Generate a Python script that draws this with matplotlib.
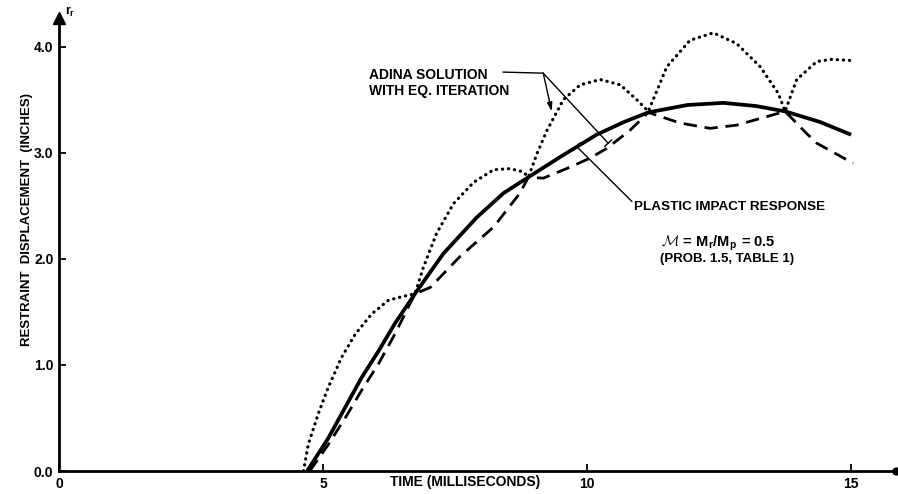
import matplotlib
matplotlib.use("Agg")
import matplotlib.pyplot as plt

plt.rcParams['font.family'] = ['Liberation Sans', 'DejaVu Sans']
plt.rcParams['font.weight'] = 'bold'

# plastic impact response (solid)
t_plastic = [4.70, 5.10, 5.42, 5.73, 6.05, 6.36, 6.74, 7.28, 7.91, 8.42, 8.89,
             9.49, 10.18, 10.70, 11.16, 11.90, 12.58, 13.20, 13.75, 14.41, 15.00]
r_plastic = [0.00, 0.31, 0.60, 0.88, 1.13, 1.39, 1.67, 2.05, 2.39, 2.62, 2.77,
             2.96, 3.17, 3.29, 3.38, 3.45, 3.47, 3.44, 3.39, 3.29, 3.17]

# ADINA solution with equilibrium iteration (dashed)
t_adina = [4.75, 5.10, 5.42, 5.73, 6.05, 6.36, 6.74, 7.03, 7.59, 8.23, 8.73, 8.89,
           9.17, 9.61, 10.06, 10.37, 10.81, 11.16, 11.76, 12.33, 12.83, 13.40,
           13.75, 14.16, 14.35, 15.04]
r_adina = [0.00, 0.25, 0.50, 0.76, 1.01, 1.29, 1.67, 1.73, 2.02, 2.30, 2.62, 2.77,
           2.76, 2.85, 2.95, 3.04, 3.21, 3.38, 3.28, 3.23, 3.26, 3.34,
           3.39, 3.18, 3.09, 2.90]

# ADINA solution (dotted)
t_dot = [4.63, 4.72, 4.91, 5.10, 5.35, 5.61, 5.92, 6.24, 6.55, 6.74, 6.90, 7.15,
         7.47, 7.85, 8.23, 8.54, 8.79, 8.89, 9.05, 9.24, 9.55, 9.87, 10.25, 10.63,
         10.94, 11.16, 11.51, 11.95, 12.39, 12.83, 13.28, 13.62, 13.75, 13.97,
         14.35, 14.63, 14.98]
r_dot = [0.00, 0.25, 0.54, 0.79, 1.07, 1.29, 1.48, 1.61, 1.65, 1.67, 1.92, 2.24,
         2.52, 2.72, 2.84, 2.85, 2.82, 2.77, 2.99, 3.21, 3.50, 3.64, 3.69, 3.64,
         3.50, 3.39, 3.81, 4.06, 4.13, 4.03, 3.81, 3.56, 3.39, 3.69,
         3.86, 3.88, 3.87]

x_ticks = [0, 5, 10, 15]
y_ticks = [0, 1, 2, 3, 4]
y_tick_labels = ['0.0', '1.0', '2.0', '3.0', '4.0']

fig = plt.figure(figsize=(8.98, 4.94), dpi=100)
ax = fig.add_axes([59 / 898, 23 / 494, 837 / 898, 453 / 494])
ax.set_xlim(0, 15.85)
ax.set_ylim(0, 4.27)

ax.plot(t_plastic, r_plastic, color='black', lw=2.7, solid_capstyle='butt',
        solid_joinstyle='round')
ax.plot(t_adina, r_adina, color='black', lw=2.0, linestyle=(0, (4.8, 2.8)))
ax.plot(t_dot, r_dot, color='black', lw=2.3, linestyle=(0, (0.1, 1.8)),
        dash_capstyle='round')

for side in ['top', 'right']:
    ax.spines[side].set_visible(False)
for side in ['left', 'bottom']:
    ax.spines[side].set_linewidth(2.0)

# axis arrow heads
ax.plot([0], [4.27], marker='^', color='black', ms=8, clip_on=False)
ax.plot([15.85], [0], marker='o', color='black', ms=5, clip_on=False)

ax.set_xticks(x_ticks)
ax.set_xticklabels([str(v) for v in x_ticks])
ax.set_yticks(y_ticks)
ax.set_yticklabels(y_tick_labels)
ax.tick_params(direction='in', length=5, width=1.3, labelsize=10, pad=4)

ax.text(7.7, -0.024, 'TIME (MILLISECONDS)', transform=ax.get_xaxis_transform(),
        ha='center', va='center', fontsize=10)
fig.text(27 / 898, 1 - 220 / 494, 'RESTRAINT  DISPLACEMENT  (INCHES)',
         rotation=90, ha='center', va='center', fontsize=9.5)
ax.text(0.12, 4.33, r'r$_\mathregular{r}$', fontsize=9, ha='left', va='center')

# annotations
ax.text(5.87, 3.655, 'ADINA SOLUTION\nWITH EQ. ITERATION', ha='left',
        va='center', fontsize=10, linespacing=1.15)
ax.plot([8.41, 9.17], [3.76, 3.75], color='black', lw=1.0)
ax.annotate('', xy=(9.33, 3.39), xytext=(9.17, 3.75),
            arrowprops=dict(arrowstyle='-|>,head_length=0.5,head_width=0.15',
                            color='black', lw=1.0, shrinkA=0, shrinkB=0))
ax.annotate('', xy=(10.40, 3.09), xytext=(9.17, 3.75),
            arrowprops=dict(arrowstyle='-[,widthB=0.35,lengthB=0',
                            color='black', lw=1.0, shrinkA=0, shrinkB=0))

ax.annotate('', xy=(9.80, 3.06), xytext=(10.85, 2.54),
            arrowprops=dict(arrowstyle='-[,widthB=0.35,lengthB=0',
                            color='black', lw=1.0, shrinkA=0, shrinkB=0))
ax.text(10.89, 2.49, 'PLASTIC IMPACT RESPONSE', ha='left', va='center',
        fontsize=9.7)
ax.text(12.48, 2.15,
        r'$\mathcal{M}$ = M$_\mathregular{r}$/M$_\mathregular{p}$ = 0.5',
        ha='center', va='center', fontsize=10.5, math_fontfamily='cm')
ax.text(12.65, 2.00, '(PROB. 1.5, TABLE 1)', ha='center', va='center',
        fontsize=9.5)

fig.savefig('out.png', dpi=100)
